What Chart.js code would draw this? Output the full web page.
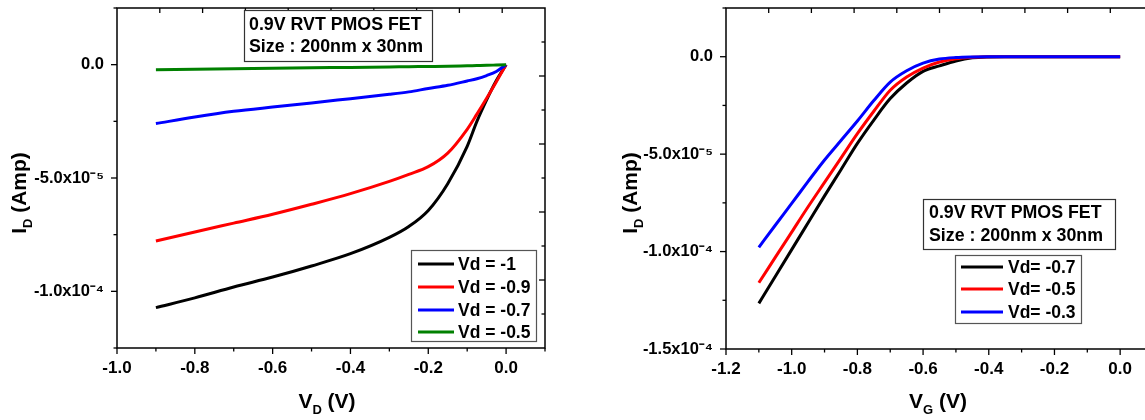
<!DOCTYPE html>
<html><head><meta charset="utf-8">
<script src="https://cdn.jsdelivr.net/npm/chart.js@4.4.1/dist/chart.umd.min.js"></script>
<style>
html,body{margin:0;padding:0;background:#fff;overflow:hidden;width:1145px;height:420px;position:relative;}
#c1{position:absolute;left:0;top:0;}
#c2{position:absolute;left:572px;top:0;}
</style></head><body>
<canvas id="c1" width="572" height="420"></canvas>
<canvas id="c2" width="620" height="420"></canvas>
<script>
// ---------- Left panel: I_D vs V_D ----------
const vdX = [-0.9,-0.8,-0.7,-0.6,-0.5,-0.4,-0.3,-0.25,-0.2,-0.15,-0.1,-0.075,-0.05,-0.025,0];
const idVdM1  = [-1.072e-4,-1.029e-4,-0.981e-4,-0.937e-4,-0.888e-4,-0.834e-4,-0.762e-4,-0.714e-4,-0.643e-4,-0.525e-4,-0.360e-4,-0.250e-4,-0.155e-4,-0.070e-4,0];
const idVdM09 = [-0.778e-4,-0.738e-4,-0.699e-4,-0.660e-4,-0.616e-4,-0.569e-4,-0.515e-4,-0.484e-4,-0.450e-4,-0.390e-4,-0.285e-4,-0.218e-4,-0.148e-4,-0.075e-4,0];
const idVdM07 = [-0.260e-4,-0.231e-4,-0.206e-4,-0.187e-4,-0.169e-4,-0.150e-4,-0.131e-4,-0.120e-4,-0.105e-4,-0.091e-4,-0.072e-4,-0.062e-4,-0.048e-4,-0.030e-4,0];
const idVdM05 = [-0.022e-4,-0.020e-4,-0.018e-4,-0.016e-4,-0.014e-4,-0.012e-4,-0.010e-4,-0.009e-4,-0.008e-4,-0.007e-4,-0.005e-4,-0.004e-4,-0.003e-4,-0.0015e-4,0];
const legendL = ['Vd = -1','Vd = -0.9','Vd = -0.7','Vd = -0.5'];
const vdTickValues = [-1.0,-0.8,-0.6,-0.4,-0.2,0.0];
const vdTickLabels = ['-1.0','-0.8','-0.6','-0.4','-0.2','0.0'];
const vdMinorTicks = [-0.9,-0.7,-0.5,-0.3,-0.1,0.1];
const idTickValuesL = [0,-5e-5,-1e-4];
const idTickLabelsL = ['0.0','-5.0x10\u207B\u2075','-1.0x10\u207B\u2074'];
const idMinorTicksL = [2.5e-5,-2.5e-5,-7.5e-5,-1.25e-4];
const topTicksL = [-0.89,-0.78,-0.67,-0.56,-0.45,-0.34,-0.23,-0.12,-0.01];
const rightTicksL = [1.0e-5,-0.5e-5,-2.0e-5,-3.5e-5,-5.0e-5,-6.5e-5,-8.0e-5,-9.5e-5,-11.0e-5];
const rightMajorL = [-0.5e-5,-3.5e-5,-6.5e-5,-9.5e-5];

// ---------- Right panel: I_D vs V_G ----------
const vgX = [-1.1,-1.05,-1.0,-0.95,-0.9,-0.85,-0.8,-0.75,-0.7,-0.65,-0.6,-0.55,-0.5,-0.45,-0.4,-0.35,-0.3,-0.2,-0.1,0];
const idVgM07 = [-1.266e-4,-1.128e-4,-0.990e-4,-0.852e-4,-0.714e-4,-0.580e-4,-0.445e-4,-0.325e-4,-0.215e-4,-0.135e-4,-0.075e-4,-0.047e-4,-0.022e-4,-0.006e-4,-0.001e-4,0,0,0,0,0];
const idVgM05 = [-1.160e-4,-1.030e-4,-0.900e-4,-0.770e-4,-0.645e-4,-0.520e-4,-0.395e-4,-0.280e-4,-0.172e-4,-0.104e-4,-0.058e-4,-0.027e-4,-0.010e-4,-0.003e-4,0,0,0,0,0,0];
const idVgM03 = [-0.978e-4,-0.865e-4,-0.753e-4,-0.640e-4,-0.530e-4,-0.430e-4,-0.330e-4,-0.225e-4,-0.130e-4,-0.072e-4,-0.033e-4,-0.012e-4,-0.004e-4,-0.001e-4,0,0,0,0,0,0];
const legendR = ['Vd= -0.7','Vd= -0.5','Vd= -0.3'];
const vgTickValues = [-1.2,-1.0,-0.8,-0.6,-0.4,-0.2,0.0];
const vgTickLabels = ['-1.2','-1.0','-0.8','-0.6','-0.4','-0.2','0.0'];
const vgMinorTicks = [-1.1,-0.9,-0.7,-0.5,-0.3,-0.1,0.1];
const idTickValuesR = [0,-5e-5,-1e-4,-1.5e-4];
const idTickLabelsR = ['0.0','-5.0x10\u207B\u2075','-1.0x10\u207B\u2074','-1.5x10\u207B\u2074'];
const idMinorTicksR = [2.5e-5,-2.5e-5,-7.5e-5,-1.25e-4];
const topTicksR = [-1.07,-0.94,-0.81,-0.68,-0.55,-0.42,-0.29,-0.16,-0.03];

const annotText = ['0.9V RVT PMOS FET','Size : 200nm x 30nm'];
const colors = ['#000000','#ff0000','#0000ff','#008000'];

const FF = '"Liberation Sans", Arial, sans-serif';
Chart.defaults.font.family = FF;
Chart.defaults.font.weight = 'bold';
Chart.defaults.color = '#000';
Chart.defaults.animation = false;

function pts(xs, ys){ return xs.map((x,i)=>({x:x,y:ys[i]})); }
function labelFrom(vals, labs){
  return function(v){ for (let i=0;i<vals.length;i++){ if (Math.abs(v-vals[i]) < Math.abs(vals[i])*1e-6 + 1e-12) return labs[i]; } return ''; };
}
function setTicks(major, minor){
  return function(scale){ scale.ticks = major.concat(minor).slice().sort((a,b)=>a-b).map(v=>({value:v})); };
}

const framePlugin = {
  id: 'frame',
  afterDraw(chart, args, o) {
    const ctx = chart.ctx, a = chart.chartArea, xs = chart.scales.x, ys = chart.scales.y;
    ctx.save();
    ctx.strokeStyle = '#000'; ctx.lineWidth = 1.5;
    ctx.strokeRect(a.left, a.top, a.right - a.left, a.bottom - a.top);
    ctx.lineWidth = 1.3;
    const line = (x1,y1,x2,y2)=>{ ctx.beginPath(); ctx.moveTo(x1,y1); ctx.lineTo(x2,y2); ctx.stroke(); };
    xs.ticks.forEach(t=>{ const p = xs.getPixelForValue(t.value); const L = t.label ? 6 : 3.5; line(p, a.bottom, p, a.bottom + L); });
    ys.ticks.forEach(t=>{ const p = ys.getPixelForValue(t.value); const L = t.label ? 6 : 3.5; line(a.left, p, a.left - L, p); });
    (o.top||[]).forEach(v=>{ const p = xs.getPixelForValue(v); line(p, a.top, p, a.top + 5); });
    (o.right||[]).forEach(v=>{ const p = ys.getPixelForValue(v); const L = (o.rightMajor||[]).some(m=>Math.abs(m-v)<1e-9) ? 6 : 3.5; line(a.right, p, a.right - L, p); });

    // axis titles with subscripts
    ctx.fillStyle = '#000';
    ctx.textBaseline = 'alphabetic';
    const drawSub = (main, sub, rest, cx, cy) => {
      ctx.font = 'bold 21px ' + FF; const w1 = ctx.measureText(main).width;
      ctx.font = 'bold 13px ' + FF; const w2 = ctx.measureText(sub).width;
      ctx.font = 'bold 21px ' + FF; const w3 = ctx.measureText(rest).width;
      let x = cx - (w1 + w2 + w3) / 2;
      ctx.textAlign = 'left';
      ctx.font = 'bold 21px ' + FF; ctx.fillText(main, x, cy); x += w1;
      ctx.font = 'bold 13px ' + FF; ctx.fillText(sub, x, cy + 6); x += w2;
      ctx.font = 'bold 21px ' + FF; ctx.fillText(rest, x, cy);
    };
    drawSub(o.xTitle[0], o.xTitle[1], o.xTitle[2], o.xTitlePos[0], o.xTitlePos[1]);
    ctx.save();
    ctx.translate(o.yTitlePos[0], o.yTitlePos[1]);
    ctx.rotate(-Math.PI/2);
    drawSub('I', 'D', ' (Amp)', 0, 0);
    ctx.restore();

    // annotation box
    const b = o.annot;
    ctx.fillStyle = '#fff'; ctx.fillRect(b.x, b.y, b.w, b.h);
    ctx.strokeStyle = '#333'; ctx.lineWidth = 1.2; ctx.strokeRect(b.x+0.5, b.y+0.5, b.w, b.h);
    ctx.fillStyle = '#000'; ctx.font = 'bold 17.8px ' + FF; ctx.textBaseline = 'middle'; ctx.textAlign = 'left';
    annotText.forEach((t,i)=>ctx.fillText(t, b.tx, b.ty[i]));

    // legend box
    const g = o.legend;
    ctx.fillStyle = '#fff'; ctx.fillRect(g.x, g.y, g.w, g.h);
    ctx.strokeStyle = '#555'; ctx.lineWidth = 1.2; ctx.strokeRect(g.x+0.5, g.y+0.5, g.w, g.h);
    chart.data.datasets.forEach((d,i)=>{
      const y = g.ey[i];
      ctx.strokeStyle = d.borderColor; ctx.lineWidth = 3;
      line(g.lx1, y, g.lx2, y);
      ctx.fillStyle = '#000'; ctx.font = 'bold 17.5px ' + FF; ctx.textBaseline = 'middle';
      ctx.fillText(g.labels[i], g.tx, y + 1);
    });
    ctx.restore();
  }
};

function makeChart(id, datasets, xr, yr, xt, yt, padRight, yWidth, xHeight, frameOpts){
  return new Chart(document.getElementById(id), {
    type: 'line',
    data: { datasets: datasets },
    options: {
      responsive: false,
      devicePixelRatio: 1,
      events: [],
      layout: { padding: { top: 8, right: padRight, left: 0, bottom: 0 } },
      plugins: { legend: { display: false }, tooltip: { enabled: false }, frame: frameOpts },
      scales: {
        x: {
          type: 'linear', min: xr[0], max: xr[1],
          grid: { display: false }, border: { display: false },
          afterBuildTicks: setTicks(xt.major, xt.minor),
          afterFit: s => { s.height = xHeight; s.paddingLeft = 0; s.paddingRight = 0; },
          ticks: { padding: 2, font: { size: 17, weight: 'bold' }, color: '#000', maxRotation: 0, autoSkip: false,
                   callback: labelFrom(xt.major, xt.labels) }
        },
        y: {
          type: 'linear', min: yr[0], max: yr[1],
          grid: { display: false }, border: { display: false },
          afterBuildTicks: setTicks(yt.major, yt.minor),
          afterFit: s => { s.width = yWidth; s.paddingTop = 0; s.paddingBottom = 0; },
          ticks: { padding: 5, font: { size: 16.5, weight: 'bold' }, color: '#000', autoSkip: false,
                   callback: labelFrom(yt.major, yt.labels) }
        }
      }
    },
    plugins: [framePlugin]
  });
}

function ds(label, xs, ys, color, order){
  return { label: label, data: pts(xs, ys), borderColor: color, backgroundColor: color, borderWidth: 3,
           pointRadius: 0, fill: false, cubicInterpolationMode: 'monotone', order: order };
}

makeChart('c1',
  [ds(legendL[0], vdX, idVdM1, colors[0], 3), ds(legendL[1], vdX, idVdM09, colors[1], 2),
   ds(legendL[2], vdX, idVdM07, colors[2], 1), ds(legendL[3], vdX, idVdM05, colors[3], 0)],
  [-1.0, 0.1], [-1.25e-4, 2.5e-5],
  { major: vdTickValues, minor: vdMinorTicks, labels: vdTickLabels },
  { major: idTickValuesL, minor: idMinorTicksL, labels: idTickLabelsL },
  27, 117, 72,
  { top: topTicksL, right: rightTicksL, rightMajor: rightMajorL,
    xTitle: ['V','D',' (V)'], xTitlePos: [327, 408], yTitlePos: [26, 193],
    annot: { x: 244, y: 10, w: 188, h: 51, tx: 249, ty: [25, 47] },
    legend: { x: 411, y: 250, w: 125, h: 91, lx1: 418, lx2: 454, tx: 458, ey: [264, 287, 310, 332], labels: legendL } }
);

makeChart('c2',
  [ds(legendR[0], vgX, idVgM07, colors[0], 2), ds(legendR[1], vgX, idVgM05, colors[1], 1),
   ds(legendR[2], vgX, idVgM03, colors[2], 0)],
  [-1.2, 0.1], [-1.5e-4, 2.5e-5],
  { major: vgTickValues, minor: vgMinorTicks, labels: vgTickLabels },
  { major: idTickValuesR, minor: idMinorTicksR, labels: idTickLabelsR },
  39, 154, 71,
  { top: topTicksR, right: [], rightMajor: [],
    xTitle: ['V','G',' (V)'], xTitlePos: [366, 408], yTitlePos: [65, 193],
    annot: { x: 351, y: 199, w: 192, h: 50, tx: 357, ty: [213, 236] },
    legend: { x: 383, y: 255, w: 126, h: 68, lx1: 389, lx2: 431, tx: 436, ey: [267, 289, 312], labels: legendR } }
);
</script>
</body></html>
